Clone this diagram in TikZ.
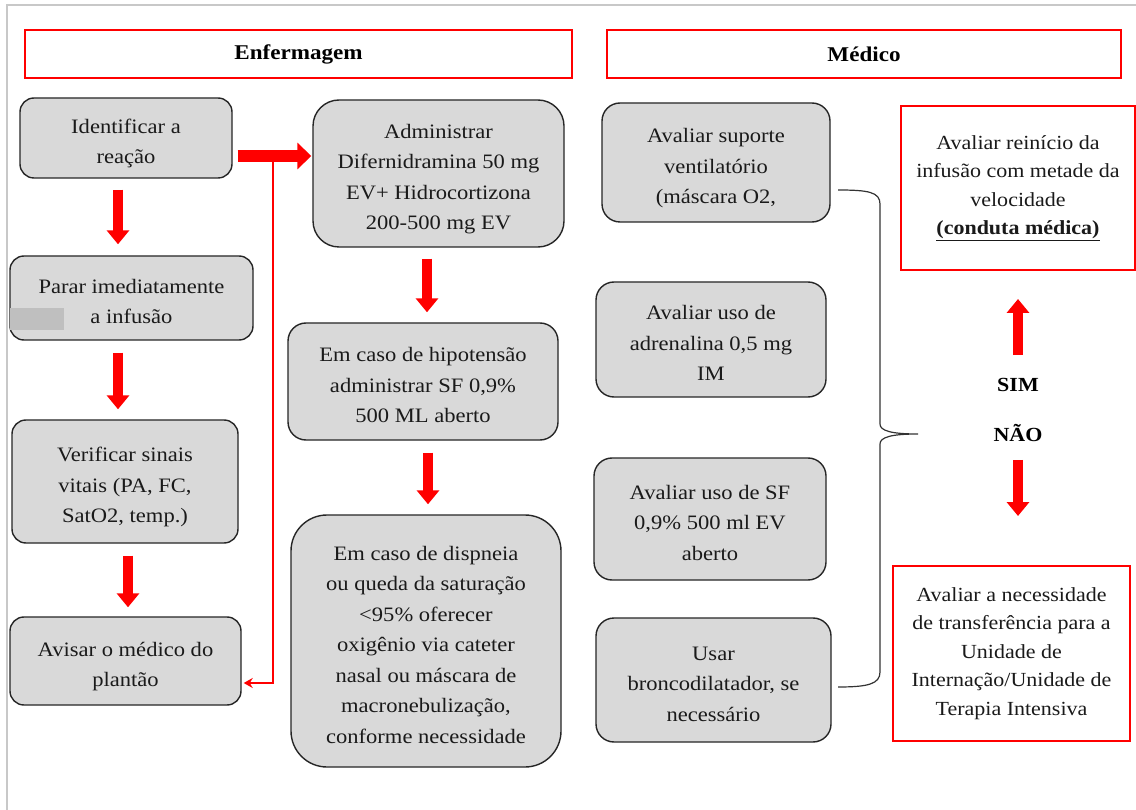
\documentclass[tikz,border=0pt]{standalone}
\usepackage{fontspec}
\setmainfont[FakeStretch=1.1]{Liberation Serif}
\usetikzlibrary{arrows.meta}
\definecolor{boxgray}{HTML}{D9D9D9}
\definecolor{framegray}{HTML}{C8C8C8}
\definecolor{txt}{HTML}{1A1A1A}
\newcommand{\boxtext}[1]{\raisebox{-4.5pt}[\height][\depth]{\begin{tabular}{@{}c@{}}#1\end{tabular}}}
\begin{document}
\begin{tikzpicture}[x=1pt,y=-1pt,
  gbox/.style={draw=black!85, line width=1.4pt, fill=boxgray, rounded corners=14pt,
    inner sep=0pt, text=txt, font=\fontsize{20.5}{30.5}\selectfont},
  rbox/.style={draw=red, line width=2pt, fill=white, align=center, inner sep=0pt,
    text=txt, font=\fontsize{20}{28.5}\selectfont},
  hbox/.style={draw=red, line width=2pt, fill=white, inner sep=0pt,
    font=\fontsize{21}{25}\selectfont\bfseries},
  lbl/.style={inner sep=1pt, font=\fontsize{20}{24}\selectfont\bfseries},
  bigarrow/.style={draw=red, line width=10pt, -{Triangle[width=22pt,length=14pt]}},
  harrow/.style={draw=red, line width=12pt, -{Triangle[width=26pt,length=14pt]}},
  backline/.style={draw=red, line width=2.4pt, -{Stealth[width=10pt,length=9pt]}},
  brace/.style={draw=black!80, line width=1.2pt}
]
\useasboundingbox (0,0) rectangle (1136,810);
\fill[white] (0,0) rectangle (1136,810);
% outer frame
\draw[framegray, line width=1.5pt] (7,810) -- (7,5) -- (1136,5);

% headers
\node[hbox, minimum width=547pt, minimum height=48pt] (enf) at (298.5,54) {Enfermagem};
\node[hbox, minimum width=514pt, minimum height=48pt] (med) at (864,54) {Médico};

% Enfermagem column 1
\node[gbox, minimum width=212pt, minimum height=80pt] (id) at (126,138) {\boxtext{Identificar a\\reação}};
\node[gbox, minimum width=243pt, minimum height=84pt] (parar) at (131.5,298) {\boxtext{Parar imediatamente\\a infusão}};
\fill[black!25] (10,308) rectangle (64,330);
\node[gbox, minimum width=226pt, minimum height=123pt] (verif) at (125,481.5) {\boxtext{Verificar sinais\\vitais (PA, FC,\\SatO2, temp.)}};
\node[gbox, minimum width=231pt, minimum height=88pt] (avisar) at (125.5,661) {\boxtext{Avisar o médico do\\plantão}};

% Enfermagem column 2
\node[gbox, rounded corners=26pt, minimum width=251pt, minimum height=147pt] (admin) at (438.5,173.5) {\boxtext{Administrar\\Difernidramina 50 mg\\EV+ Hidrocortizona\\200-500 mg EV}};
\node[gbox, rounded corners=18pt, minimum width=270pt, minimum height=117pt] (hipo) at (423,381.5) {\boxtext{Em caso de hipotensão\\administrar SF 0,9\%\\500 ML aberto}};
\node[gbox, rounded corners=36pt, minimum width=270pt, minimum height=252pt] (disp) at (426,641) {\boxtext{Em caso de dispneia\\ou queda da saturação\\<95\% oferecer\\oxigênio via cateter\\nasal ou máscara de\\macronebulização,\\conforme necessidade}};

% Médico column
\node[gbox, rounded corners=18pt, minimum width=228pt, minimum height=119pt] (vent) at (716,162.5) {\boxtext{Avaliar suporte\\ventilatório\\(máscara O2,}};
\node[gbox, rounded corners=18pt, minimum width=230pt, minimum height=115pt] (adren) at (711,339.5) {\boxtext{Avaliar uso de\\adrenalina 0,5 mg\\IM}};
\node[gbox, rounded corners=18pt, minimum width=232pt, minimum height=122pt] (sf) at (710,519) {\boxtext{Avaliar uso de SF\\0,9\% 500 ml EV\\aberto}};
\node[gbox, rounded corners=18pt, minimum width=235pt, minimum height=124pt] (bronc) at (713.5,680) {\boxtext{Usar\\broncodilatador, se\\necessário}};

% Right decision boxes
\node[rbox, minimum width=234pt, minimum height=164pt] (rein) at (1018,188) {Avaliar reinício da\\infusão com metade da\\velocidade\\\textbf{\underline{(conduta médica)}}};
\node[rbox, minimum width=237pt, minimum height=175pt] (transf) at (1011.5,653.5) {Avaliar a necessidade\\de transferência para a\\Unidade de\\Internação/Unidade de\\Terapia Intensiva};
\node[lbl] (sim) at (1018,385) {SIM};
\node[lbl] (nao) at (1018,433) {NÃO};

% Enfermagem arrows
\draw[bigarrow, shorten <=11pt, shorten >=11pt] ([xshift=-8pt]id.south) -- ([xshift=-8pt]id.south |- parar.north);
\draw[bigarrow, shorten <=12pt, shorten >=10pt] ([xshift=-13.5pt]parar.south) -- ([xshift=-13.5pt]parar.south |- verif.north);
\draw[bigarrow, shorten <=12pt, shorten >=9pt] ([xshift=3pt]verif.south) -- ([xshift=3pt]verif.south |- avisar.north);
\draw[harrow, shorten <=5pt, shorten >=1pt] ([yshift=-18pt]id.east) -- ([yshift=-18pt]id.east -| admin.west);
\draw[bigarrow, shorten <=11pt, shorten >=10pt] ([xshift=-11.5pt]admin.south) -- ([xshift=-11.5pt]admin.south |- hipo.north);
\draw[bigarrow, shorten <=12pt, shorten >=10pt] ([xshift=5pt]hipo.south) -- ([xshift=5pt]hipo.south |- disp.north);
\coordinate (j) at (273,156);
\draw[backline] (j) |- ([yshift=-22pt,xshift=2pt]avisar.east);

% Médico arrows
\draw[bigarrow, shorten <=22pt, shorten >=28pt] (sim.north) -- (sim.north |- rein.south);
\draw[bigarrow, shorten <=17pt, shorten >=49pt] (nao.south) -- (nao.south |- transf.north);

% brace
\coordinate (bt) at (838,190);
\coordinate (bb) at (838,687);
\coordinate (btip) at (918,434);
\draw[brace] (bt) .. controls (868,190) and (880,192) .. (880,204) -- (880,424)
  .. controls (880,431) and (892,434) .. (btip)
  .. controls (892,434) and (880,437) .. (880,444) -- (880,672)
  .. controls (880,684) and (868,687) .. (bb);
\end{tikzpicture}
\end{document}
